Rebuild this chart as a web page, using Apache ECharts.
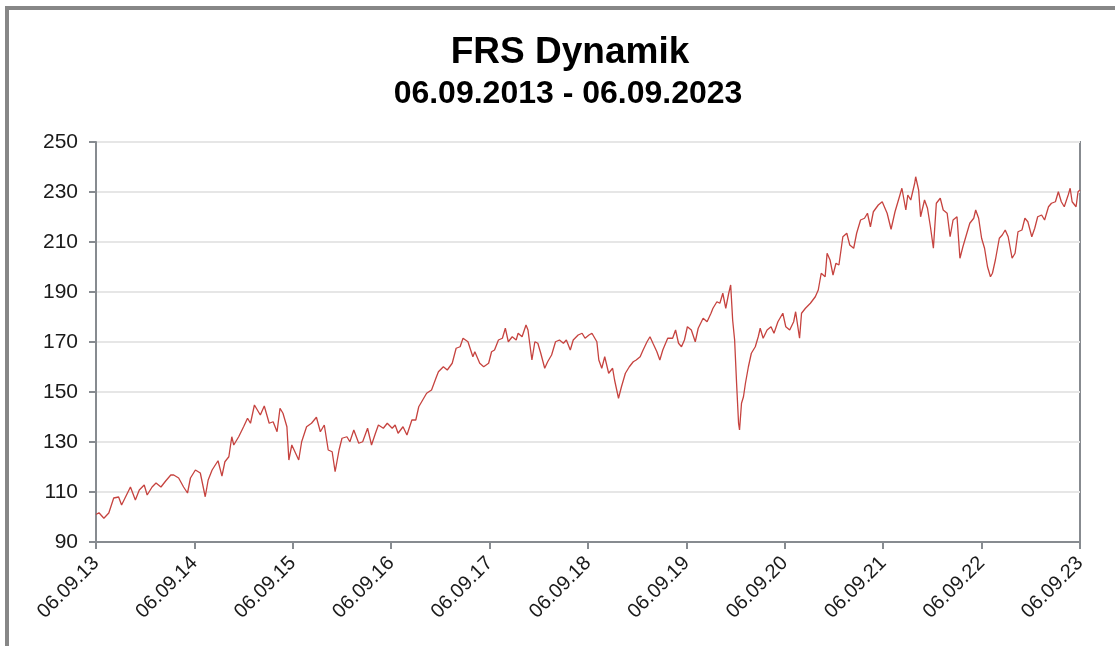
<!DOCTYPE html>
<html>
<head>
<meta charset="utf-8">
<title>FRS Dynamik</title>
<script src="https://cdn.jsdelivr.net/npm/echarts@6/dist/echarts.min.js"></script>
<style>
  html, body { margin: 0; padding: 0; background: #fff; overflow: hidden; }
  #chart-container { position: absolute; left: 0; top: 0; width: 1115px; height: 646px; }
  #frame { position: absolute; left: 5px; top: 6px; width: 1300px; height: 900px;
           border: 4px solid #878787; pointer-events: none; }
</style>
</head>
<body>
<div id="chart-container"></div>
<div id="frame"></div>
<script>
// years since 06.09.2013
var years = [
  0.00, 0.03, 0.08, 0.13, 0.18, 0.23, 0.26, 0.32, 0.35, 0.40, 0.44, 0.49, 0.52, 0.57, 0.61, 0.66,
  0.71, 0.76, 0.79, 0.84, 0.89, 0.93, 0.96, 1.01, 1.06, 1.11, 1.14, 1.18, 1.24, 1.28, 1.31, 1.35,
  1.38, 1.40, 1.45, 1.50, 1.54, 1.57, 1.61, 1.64, 1.67, 1.71, 1.76, 1.80, 1.84, 1.87, 1.90, 1.94,
  1.96, 1.99, 2.01, 2.06, 2.09, 2.14, 2.19, 2.24, 2.28, 2.32, 2.36, 2.40, 2.43, 2.47, 2.50, 2.55,
  2.58, 2.62, 2.67, 2.71, 2.76, 2.80, 2.84, 2.87, 2.92, 2.96, 3.01, 3.04, 3.07, 3.12, 3.16, 3.21,
  3.25, 3.28, 3.32, 3.36, 3.41, 3.46, 3.48, 3.53, 3.57, 3.62, 3.66, 3.70, 3.73, 3.78, 3.80, 3.83,
  3.85, 3.90, 3.94, 3.99, 4.02, 4.05, 4.09, 4.13, 4.16, 4.19, 4.23, 4.27, 4.29, 4.33, 4.37, 4.39,
  4.43, 4.46, 4.49, 4.52, 4.56, 4.59, 4.63, 4.67, 4.71, 4.75, 4.78, 4.82, 4.85, 4.90, 4.94, 4.97,
  5.01, 5.04, 5.09, 5.11, 5.14, 5.17, 5.21, 5.25, 5.27, 5.31, 5.34, 5.38, 5.42, 5.46, 5.49, 5.53,
  5.56, 5.60, 5.63, 5.66, 5.70, 5.73, 5.76, 5.81, 5.86, 5.89, 5.92, 5.95, 5.98, 6.01, 6.05, 6.09,
  6.12, 6.17, 6.21, 6.25, 6.27, 6.31, 6.34, 6.37, 6.40, 6.43, 6.45, 6.47, 6.49, 6.51, 6.53, 6.54,
  6.56, 6.58, 6.60, 6.63, 6.66, 6.70, 6.73, 6.75, 6.78, 6.82, 6.86, 6.89, 6.93, 6.98, 7.01, 7.05,
  7.09, 7.11, 7.15, 7.17, 7.21, 7.26, 7.31, 7.34, 7.37, 7.41, 7.43, 7.46, 7.49, 7.52, 7.55, 7.59,
  7.63, 7.66, 7.70, 7.73, 7.77, 7.81, 7.84, 7.87, 7.90, 7.95, 7.99, 8.04, 8.08, 8.12, 8.17, 8.19,
  8.23, 8.25, 8.28, 8.32, 8.33, 8.36, 8.38, 8.42, 8.45, 8.48, 8.51, 8.54, 8.58, 8.61, 8.65, 8.68,
  8.71, 8.75, 8.78, 8.81, 8.85, 8.88, 8.92, 8.94, 8.97, 9.00, 9.03, 9.06, 9.09, 9.11, 9.14, 9.18,
  9.21, 9.24, 9.27, 9.31, 9.34, 9.37, 9.41, 9.44, 9.47, 9.51, 9.54, 9.57, 9.61, 9.64, 9.68, 9.71,
  9.75, 9.78, 9.81, 9.84, 9.88, 9.90, 9.92, 9.96, 9.98, 10.00
];
var values = [
  101.0, 101.7, 99.5, 101.6, 107.6, 108.0, 104.8, 109.6, 112.0, 106.8, 110.8, 112.8, 108.8, 112.0, 113.6, 112.0,
  114.5, 116.8, 116.8, 115.6, 112.0, 109.6, 115.6, 118.8, 117.6, 108.1, 114.8, 118.8, 122.5, 116.4, 122.1, 124.1,
  132.1, 128.8, 132.1, 136.1, 139.5, 137.5, 144.8, 142.8, 140.8, 144.4, 137.5, 138.1, 134.1, 143.5, 141.5, 136.1,
  122.8, 128.8, 129.5, 122.8, 130.1, 136.1, 137.5, 139.9, 134.1, 136.8, 126.8, 126.1, 118.1, 126.8, 131.5, 132.1,
  130.1, 134.8, 129.5, 130.1, 135.5, 128.8, 133.5, 136.8, 135.5, 137.5, 135.5, 136.8, 133.5, 136.1, 132.8, 138.8,
  138.8, 144.1, 146.8, 149.5, 150.8, 156.1, 158.1, 160.1, 158.8, 161.5, 167.5, 168.1, 171.5, 170.1, 170.8, 164.1,
  166.1, 161.5, 160.1, 161.5, 166.1, 166.8, 170.8, 171.5, 175.5, 170.1, 172.1, 170.8, 173.5, 172.1, 176.8, 174.8,
  162.8, 170.1, 169.5, 165.5, 159.5, 162.1, 164.8, 170.1, 170.8, 169.5, 170.8, 166.8, 170.8, 172.8, 173.5, 171.5,
  172.8, 173.5, 170.1, 162.8, 159.5, 164.1, 157.5, 159.5, 154.8, 147.5, 152.1, 157.5, 160.1, 162.1, 162.8, 164.1,
  166.8, 170.1, 172.1, 169.5, 166.1, 162.8, 166.8, 171.5, 171.5, 174.8, 169.5, 168.1, 170.8, 176.1, 174.8, 170.1,
  175.5, 179.5, 178.1, 181.5, 183.5, 186.1, 185.5, 189.5, 183.5, 189.5, 192.8, 178.8, 170.8, 153.5, 137.5, 134.8,
  145.5, 148.1, 153.5, 160.1, 165.5, 168.1, 172.1, 175.5, 171.5, 174.8, 176.1, 173.5, 178.1, 181.5, 176.1, 174.8,
  178.1, 182.1, 171.5, 181.5, 183.5, 185.5, 188.1, 190.8, 197.5, 196.1, 205.5, 202.8, 196.8, 201.5, 200.8, 212.1,
  213.5, 208.8, 207.5, 213.5, 218.8, 219.5, 221.5, 216.1, 222.1, 224.8, 226.1, 221.5, 215.1, 222.1, 228.8, 231.5,
  222.8, 228.8, 226.8, 233.5, 236.1, 230.8, 220.1, 226.8, 223.5, 216.1, 207.5, 225.5, 227.5, 222.8, 221.5, 212.1,
  218.8, 220.1, 203.5, 208.1, 213.5, 217.5, 219.5, 222.8, 219.5, 211.5, 207.5, 200.1, 196.1, 197.5, 202.8, 211.5,
  212.8, 214.8, 212.1, 203.5, 205.5, 214.1, 214.8, 219.5, 218.1, 212.1, 215.5, 220.1, 220.8, 218.8, 224.1, 225.5,
  226.1, 230.1, 226.1, 224.1, 228.8, 231.5, 226.1, 224.1, 230.1, 230.8
];
var xTickLabels = ['06.09.13', '06.09.14', '06.09.15', '06.09.16', '06.09.17', '06.09.18',
  '06.09.19', '06.09.20', '06.09.21', '06.09.22', '06.09.23'];

var dom = document.getElementById('chart-container');
var myChart = echarts.init(dom, null, { renderer: 'canvas' });

var seriesData = years.map(function (t, i) { return [t, values[i]]; });
var axisGray = '#878b90';
var font = 'Arial, "Liberation Sans", sans-serif';

var option = {
  animation: false,
  backgroundColor: '#fff',
  title: [
    {
      text: 'FRS Dynamik',
      left: 565, top: 29, textAlign: 'center',
      textStyle: { fontFamily: font, fontSize: 37, fontWeight: 'bold', color: '#000' }
    },
    {
      text: '06.09.2013 - 06.09.2023',
      left: 563, top: 73, textAlign: 'center',
      textStyle: { fontFamily: font, fontSize: 32, fontWeight: 'bold', color: '#000' }
    }
  ],
  grid: {
    left: 96, right: 35, top: 142, bottom: 104,
    show: true, borderColor: axisGray, borderWidth: 2, backgroundColor: '#fff'
  },
  xAxis: {
    type: 'value',
    min: 0, max: 10, interval: 1,
    axisLine: { show: true, lineStyle: { color: axisGray, width: 2 } },
    axisTick: { show: true, inside: false, length: 7, lineStyle: { color: axisGray, width: 2 } },
    splitLine: { show: false },
    axisLabel: {
      rotate: 45, margin: 18,
      fontFamily: font, fontSize: 20, color: '#1a1a1a',
      formatter: function (v) { return xTickLabels[Math.round(v)]; }
    }
  },
  yAxis: {
    type: 'value',
    min: 90, max: 250, interval: 20,
    axisLine: { show: true, lineStyle: { color: axisGray, width: 2 } },
    axisTick: { show: true, inside: false, length: 7, lineStyle: { color: axisGray, width: 2 } },
    splitLine: { show: true, lineStyle: { color: '#e6e6e6', width: 2 } },
    axisLabel: { margin: 18, fontFamily: font, fontSize: 21, color: '#1a1a1a' }
  },
  series: [
    {
      type: 'line',
      data: seriesData,
      showSymbol: false,
      smooth: false,
      lineStyle: { color: '#c6433f', width: 1.3 },
      z: 5
    }
  ]
};

if (option && typeof option === 'object') {
  myChart.setOption(option);
}

window.addEventListener('resize', myChart.resize);
</script>
</body>
</html>
